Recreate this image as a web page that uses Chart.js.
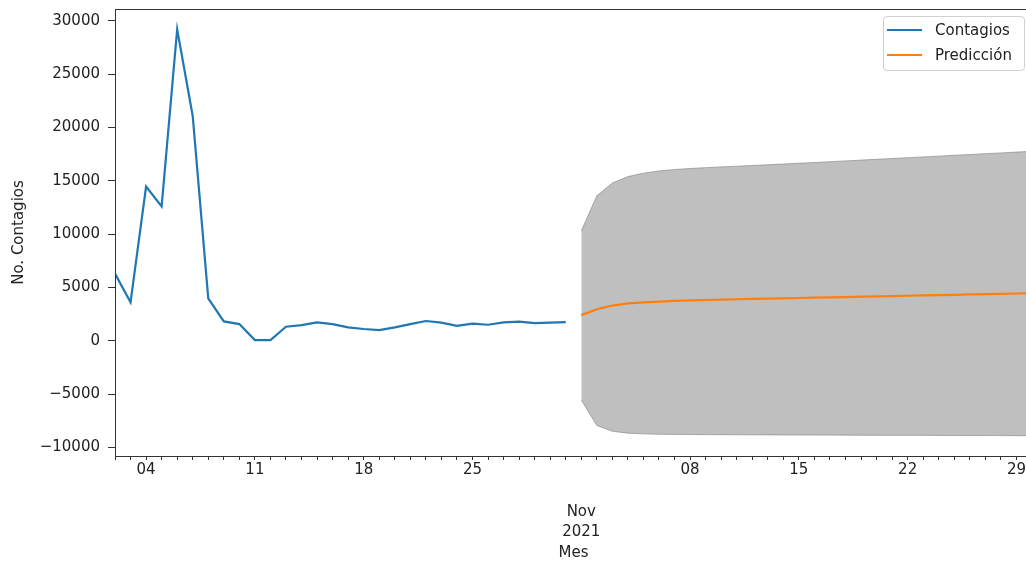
<!DOCTYPE html>
<html><head><meta charset="utf-8">
<script src="https://cdn.jsdelivr.net/npm/chart.js@4/dist/chart.umd.min.js"></script>
<style>
html,body{margin:0;padding:0;background:#fff;overflow:hidden;width:1026px;height:565px}
#wrap{position:relative;width:1026px;height:565px;overflow:hidden}
canvas{position:absolute;left:0;top:0}
#legend{position:absolute;left:883px;top:16px;width:140px;height:53px;border:1px solid #d0d0d0;border-radius:4px;background:rgba(255,255,255,0.8);font-family:'DejaVu Sans';font-size:15px;color:#222}
.row{position:absolute;left:0;height:20px;line-height:20px;width:140px}
.sw{position:absolute;left:3px;width:35px;height:2px;top:9px}
.lbl{position:absolute;left:51px;white-space:nowrap}
</style></head>
<body>
<div id="wrap">
<canvas id="c" width="1040" height="565"></canvas>
<div id="legend">
  <div class="row" style="top:3px"><div class="sw" style="background:#1f77b4"></div><div class="lbl">Contagios</div></div>
  <div class="row" style="top:28px"><div class="sw" style="background:#ff7f0e"></div><div class="lbl">Predicción</div></div>
</div>
</div>
<script>
// Day index 0 = 2021-10-02
const contagios = [6300, 3600, 14470, 12600, 29220, 21090, 3970, 1810, 1560, 60, 60, 1310, 1470, 1720, 1560, 1250, 1100, 1000, 1250, 1560, 1850, 1700, 1400, 1600, 1500, 1720, 1800, 1660, 1690, 1750]; // Oct 2 - Oct 31
const prediccion = [2400, 2950, 3300, 3500, 3600, 3670, 3730, 3780, 3820, 3860, 3890, 3920, 3950, 3980, 4010, 4040, 4070, 4100, 4130, 4160, 4190, 4220, 4250, 4280, 4310, 4340, 4370, 4400, 4430, 4460]; // Nov 1 - Nov 30
const upperBand = [10300, 13600, 14800, 15400, 15720, 15930, 16060, 16160, 16240, 16310, 16380, 16440, 16510, 16580, 16650, 16720, 16800, 16870, 16950, 17020, 17100, 17170, 17250, 17320, 17400, 17470, 17550, 17620, 17700, 17770];
const lowerBand = [-5560, -7950, -8500, -8670, -8740, -8770, -8790, -8800, -8810, -8820, -8825, -8830, -8835, -8840, -8845, -8850, -8855, -8860, -8865, -8870, -8873, -8876, -8880, -8884, -8888, -8892, -8896, -8900, -8905, -8910];
const predStartDay = 30;
const xTickLabels = {2: '04', 9: '11', 16: '18', 23: '25', 30: ['', '', 'Nov', '2021'], 37: '08', 44: '15', 51: '22', 58: '29'};
const yTicks = [-10000, -5000, 0, 5000, 10000, 15000, 20000, 25000, 30000];
const totalDays = 60;

const FONT = 'DejaVu Sans';
const frame = {
  id: 'frame',
  afterDraw(ch) {
    const a = ch.chartArea, c = ch.ctx;
    c.save(); c.strokeStyle = '#333'; c.lineWidth = 1;
    c.strokeRect(Math.round(a.left) + 0.5, Math.round(a.top) + 0.5, Math.round(a.right - a.left), Math.round(a.bottom - a.top));
    c.restore();
  }
};
const pts = (arr, off) => arr.map((v, i) => ({x: i + off, y: v}));
new Chart(document.getElementById('c'), {
  type: 'line',
  data: {datasets: [
    {label: 'Contagios', data: pts(contagios, 0), borderColor: '#1f77b4', borderWidth: 2.2, pointRadius: 0, fill: false, tension: 0},
    {label: 'Predicción', data: pts(prediccion, predStartDay), borderColor: '#ff7f0e', borderWidth: 2.2, pointRadius: 0, fill: false, tension: 0},
    {label: 'upper', data: pts(upperBand, predStartDay), borderColor: 'rgba(128,128,128,0.6)', borderWidth: 1, backgroundColor: 'rgba(128,128,128,0.5)', pointRadius: 0, fill: '+1', tension: 0},
    {label: 'lower', data: pts(lowerBand, predStartDay), borderColor: 'rgba(128,128,128,0.6)', borderWidth: 1, pointRadius: 0, fill: false, tension: 0}
  ]},
  options: {
    responsive: false, animation: false, devicePixelRatio: 1,
    layout: {padding: {top: 9, right: 8, left: 0, bottom: 0}},
    plugins: {legend: {display: false}, tooltip: {enabled: false}},
    scales: {
      x: {
        type: 'linear', min: 0, max: totalDays - 1,
        afterBuildTicks: s => { s.ticks = Array.from({length: totalDays}, (_, i) => ({value: i})); },
        afterFit: s => { s.height = 109; s.paddingLeft = 0; s.paddingRight = 0; },
        ticks: {autoSkip: false, maxRotation: 0, padding: 0, color: '#222', font: {family: FONT, size: 15, lineHeight: 1.38},
          callback: v => (xTickLabels[v] !== undefined ? xTickLabels[v] : '')},
        grid: {drawOnChartArea: false, drawTicks: true, tickLength: 4, tickColor: '#333'},
        border: {display: true, color: '#333', width: 1},
        title: {display: true, text: 'Mes', color: '#222', font: {family: FONT, size: 15, lineHeight: 1.2}, padding: {top: 0, bottom: 3}}
      },
      y: {
        type: 'linear', min: -10816, max: 31125,
        afterBuildTicks: s => { s.ticks = yTicks.map(v => ({value: v})); },
        afterFit: s => { s.width = 115; s.paddingTop = 0; s.paddingBottom = 0; },
        ticks: {padding: 8, color: '#222', font: {family: FONT, size: 15},
          callback: v => (v < 0 ? '\u2212' + Math.abs(v) : String(v))},
        grid: {drawOnChartArea: false, drawTicks: true, tickLength: 7, tickColor: '#333'},
        border: {display: true, color: '#333', width: 1},
        title: {display: true, text: 'No. Contagios', color: '#222', font: {family: FONT, size: 15, lineHeight: 1.2}, padding: {top: 10, bottom: 0}}
      }
    }
  },
  plugins: [frame]
});
</script>
</body></html>
